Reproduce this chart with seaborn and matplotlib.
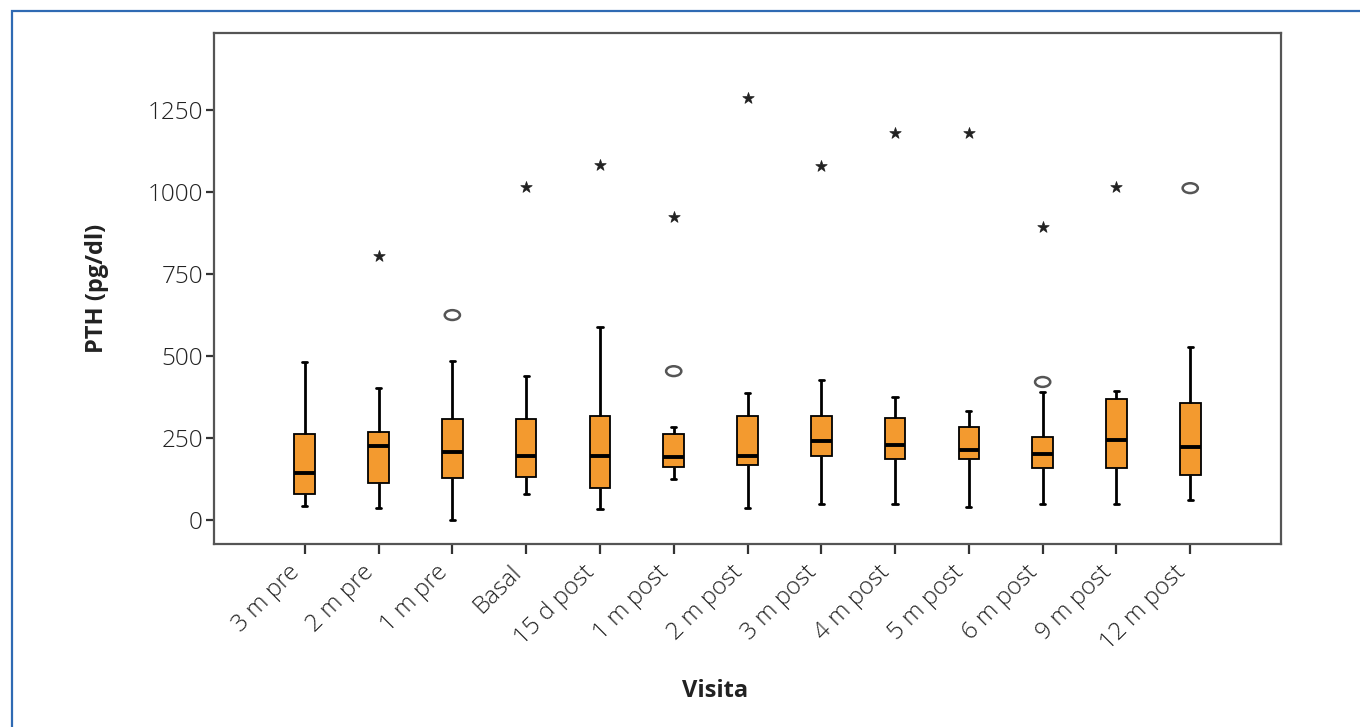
import numpy as np
import pandas as pd
import matplotlib
matplotlib.use("Agg")
import matplotlib.pyplot as plt
import seaborn as sns
from matplotlib.patches import Rectangle
from matplotlib.path import Path
from matplotlib.transforms import Affine2D

# ---------------- data ----------------
categories = ["3 m pre", "2 m pre", "1 m pre", "Basal", "15 d post", "1 m post",
              "2 m post", "3 m post", "4 m post", "5 m post", "6 m post",
              "9 m post", "12 m post"]
whisker_low = [43, 36, 0, 78, 35, 124, 38, 50, 49, 39, 49, 49, 61]
q1 = [78, 112, 128, 132, 99, 162, 168, 194, 186, 185, 160, 160, 137]
median = [144, 226, 207, 196, 194, 192, 194, 241, 229, 213, 202, 245, 223]
q3 = [262, 267, 308, 307, 316, 262, 316, 316, 310, 285, 252, 369, 356]
whisker_high = [481, 403, 485, 440, 590, 285, 388, 426, 375, 334, 389, 393, 528]

star_cat = ["2 m pre", "Basal", "15 d post", "1 m post", "2 m post", "3 m post",
            "4 m post", "5 m post", "6 m post", "9 m post"]
star_val = [806, 1016, 1084, 925, 1286, 1080, 1181, 1181, 894, 1016]

circle_cat = ["1 m pre", "1 m post", "6 m post", "12 m post"]
circle_val = [625, 454, 421, 1012]

y_ticks = [0, 250, 500, 750, 1000, 1250]

# ---------------- build tidy frame ----------------
rows = []
for c, a, b, m, d, e in zip(categories, whisker_low, q1, median, q3, whisker_high):
    for v in (a, b, m, d, e):
        rows.append({"Visita": c, "PTH": v})
df = pd.DataFrame(rows)
stars = pd.DataFrame({"Visita": star_cat, "PTH": star_val})
circles = pd.DataFrame({"Visita": circle_cat, "PTH": circle_val})

sns.set_theme(style="white")
plt.rcParams["font.family"] = ["Open Sans", "DejaVu Sans"]

fig = plt.figure(figsize=(13.6, 7.27), dpi=100)
ax = fig.add_axes([214 / 1360, 1 - 544 / 727, (1281 - 214) / 1360, (544 - 33) / 727])

orange = "#F39A2F"
sns.boxplot(data=df, x="Visita", y="PTH", order=categories, ax=ax,
            width=0.28, whis=(0, 100), showfliers=False, color=orange,
            saturation=1, linecolor="black", linewidth=1.3,
            medianprops=dict(linewidth=2.8, color="black"),
            whiskerprops=dict(linewidth=2.0, color="black"),
            capprops=dict(linewidth=2.0, color="black"),
            capwidths=0.07)

# outliers
sns.scatterplot(data=stars, x="Visita", y="PTH", ax=ax, marker="*", s=75,
                color="#222222", edgecolor="#222222", linewidth=0.5, zorder=5)
ell = Path.unit_circle().transformed(Affine2D().scale(1.55, 1.0))
sns.scatterplot(data=circles, x="Visita", y="PTH", ax=ax, marker=ell, s=120,
                facecolor="none", edgecolor="#555555", linewidth=1.8, zorder=5)

ax.set_xlim(-1.23, len(categories) - 1 + 1.23)
ax.set_ylim(-73, 1485)
ax.set_yticks(y_ticks)
ax.set_yticklabels([str(t) for t in y_ticks])

for s in ax.spines.values():
    s.set_visible(True)
    s.set_color("#555555")
    s.set_linewidth(1.6)

ax.tick_params(axis="y", which="major", left=True, length=6, width=1.6,
               color="#333333", labelsize=17.5, labelcolor="#222222", pad=2)
ax.tick_params(axis="x", which="major", bottom=True, length=7, width=1.6,
               color="#333333", labelsize=17.5, labelcolor="#222222", pad=5)
for lab in ax.get_xticklabels() + ax.get_yticklabels():
    lab.set_fontweight("light")
for lab in ax.get_xticklabels():
    lab.set_rotation(45)
    lab.set_ha("right")

ax.set_ylabel("PTH (pg/dl)", fontsize=17, fontweight="bold", color="#222222")
ax.set_xlabel("Visita", fontsize=17, fontweight="bold", color="#222222")
ax.yaxis.set_label_coords((97 - 214) / 1067, 0.5)
ax.xaxis.set_label_coords(0.4695, (544 - 691) / 511)
ax.xaxis.label.set_va("center")
ax.yaxis.label.set_va("center")
ax.grid(False)

# blue frame around the figure
fig.add_artist(Rectangle((12 / 1360, -0.05), 1.1, 1 - 10.5 / 727 + 0.05,
                         transform=fig.transFigure, fill=False,
                         edgecolor="#2F6AB3", linewidth=1.6, clip_on=False))

fig.savefig("out.png", dpi=100)
